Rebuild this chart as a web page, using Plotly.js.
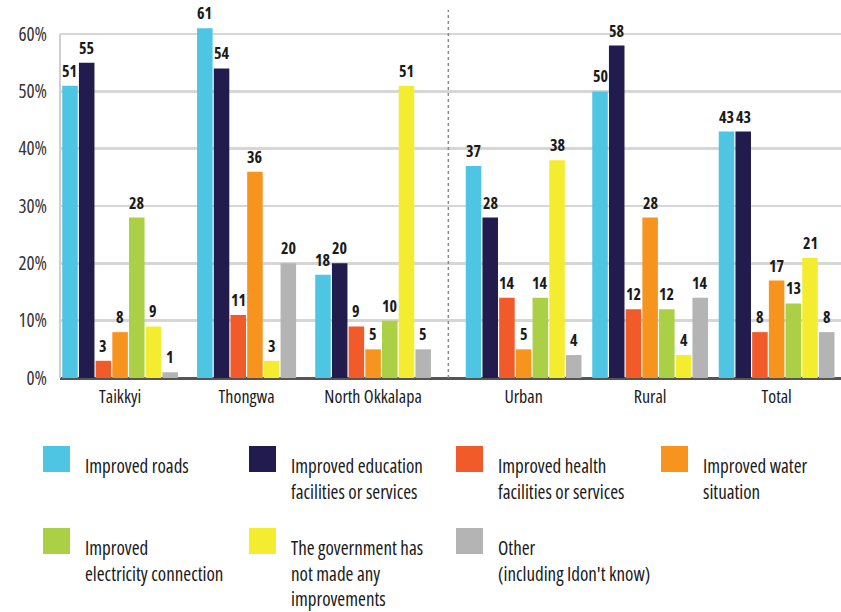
<!DOCTYPE html>
<html>
<head>
<meta charset="utf-8">
<script src="https://cdn.plot.ly/plotly-3.0.1.min.js"></script>
<style>
html,body{margin:0;padding:0;background:#fff}
#chart{width:841px;height:612px}
text{font-stretch:75% !important}
</style>
</head>
<body>
<div id="chart"></div>
<script>
// ---- data ----
const categories = ['Taikkyi', 'Thongwa', 'North Okkalapa', 'Urban', 'Rural', 'Total'];
const seriesNames = [
  'Improved roads',
  'Improved education\nfacilities or services',
  'Improved health\nfacilities or services',
  'Improved water\nsituation',
  'Improved\nelectricity connection',
  'The government has\nnot made any\nimprovements',
  'Other\n(including Idon\'t know)'
];
const roads         = [51, 61, 18, 37, 50, 43];
const education     = [55, 54, 20, 28, 58, 43];
const health        = [3, 11, 9, 14, 12, 8];
const water         = [8, 36, 5, 5, 28, 17];
const electricity   = [28, null, 10, 14, 12, 13];
const noImprovement = [9, 3, 51, 38, 4, 21];
const other         = [1, 20, 5, 4, 14, 8];
const yTicks = [0, 10, 20, 30, 40, 50, 60];

// ---- styling / layout ----
const colors = ['#4dc5e3', '#221c4e', '#f15a29', '#f7941e', '#abd046', '#f4ec2f', '#b4b4b4'];
const FONT = '"Open Sans", "DejaVu Sans", sans-serif';
const W = 841, H = 612, M = {l: 60, r: 0, t: 10, b: 234};
const PW = W - M.l - M.r, PH = H - M.t - M.b;
const GAP = 0.19, SLOT = 0.132, PXU = 126.5;
const X0 = -0.475, X1 = X0 + PW / PXU;
const Y0 = 0, Y1 = 64.2;

const series = [roads, education, health, water, electricity, noImprovement, other];
const groupPos = categories.map((c, i) => i + (i >= 3 ? GAP : 0));

function barX(j, i) {
  if (series[j][i] == null) return null;
  const present = series.map((s, k) => (s[i] != null ? k : -1)).filter(k => k >= 0);
  const n = present.length, k = present.indexOf(j);
  return groupPos[i] + (k - (n - 1) / 2) * SLOT;
}

const traces = series.map((s, j) => ({
  type: 'bar',
  name: seriesNames[j].replace(/\n/g, ' '),
  x: categories.map((c, i) => barX(j, i)),
  y: s,
  width: SLOT * 0.93,
  marker: {color: colors[j], line: {width: 0}},
  hoverinfo: 'name+y'
}));

const annotations = [];
series.forEach((s, j) => s.forEach((v, i) => {
  if (v == null) return;
  annotations.push({
    x: barX(j, i), y: v, xref: 'x', yref: 'y', text: '<b>' + v + '</b>',
    showarrow: false, yanchor: 'bottom', xanchor: 'center', yshift: 2,
    font: {family: FONT, size: 16, color: '#1a1a1a'}
  });
}));

// pixel -> paper helpers for the hand-placed legend
const px = v => (v - M.l) / PW;
const py = v => (H - M.b - v) / PH;
const shapes = [
  {type: 'line', xref: 'paper', yref: 'y', x0: 0, x1: 0, y0: 0, y1: 60, line: {color: '#cfcfcf', width: 2}},
  {type: 'line', xref: 'x', yref: 'paper', x0: (groupPos[2] + groupPos[3]) / 2, x1: (groupPos[2] + groupPos[3]) / 2, y0: 0, y1: 1, line: {color: '#8a8a8a', width: 1.5, dash: 'dot'}}
];
const colX = [43, 249, 456, 661], rowY = [446, 528];
seriesNames.forEach((name, j) => {
  const cx = colX[j % 4], ry = rowY[Math.floor(j / 4)];
  shapes.push({type: 'rect', xref: 'paper', yref: 'paper', x0: px(cx), x1: px(cx + 27), y0: py(ry), y1: py(ry + 26), fillcolor: colors[j], line: {width: 0}});
  name.split('\n').forEach((line, li) => {
    annotations.push({
      xref: 'paper', yref: 'paper', x: px(cx + 40), y: py(ry + 20 + li * 25.5),
      xanchor: 'left', yanchor: 'middle', showarrow: false, text: line,
      font: {family: FONT, size: 19, color: '#1a1a1a'}
    });
  });
});

const layout = {
  width: W, height: H, margin: M,
  paper_bgcolor: '#fff', plot_bgcolor: '#fff',
  barmode: 'overlay', showlegend: false,
  font: {family: FONT, color: '#333'},
  xaxis: {
    type: 'linear', range: [X0, X1], tickvals: groupPos, ticktext: categories,
    showgrid: false, zeroline: false, showline: false, ticks: '', ticklabelstandoff: 6,
    tickfont: {family: FONT, size: 18, color: '#1a1a1a'}, fixedrange: true
  },
  yaxis: {
    range: [Y0, Y1], tickvals: yTicks, ticktext: yTicks.map(t => t + '%'),
    showgrid: true, gridcolor: '#d6d6d6', gridwidth: 2.5,
    zeroline: true, zerolinecolor: '#555', zerolinewidth: 3,
    showline: false, ticks: '', ticklabelstandoff: 12,
    tickfont: {family: FONT, size: 19, color: '#333'}, fixedrange: true
  },
  shapes: shapes,
  annotations: annotations
};

Plotly.newPlot('chart', traces, layout, {displayModeBar: false, staticPlot: true});
</script>
</body>
</html>
